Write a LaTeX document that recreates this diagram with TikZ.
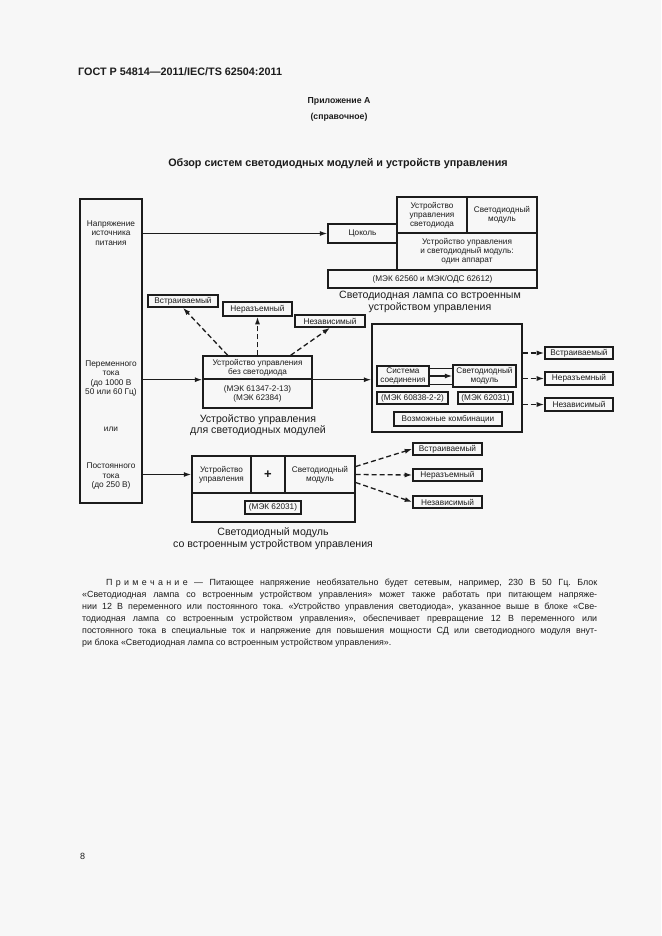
\documentclass[tikz,border=0pt]{standalone}
\usepackage{fontspec}
\setmainfont{Liberation Sans}
\usetikzlibrary{arrows.meta,calc}
\definecolor{ink}{RGB}{28,28,28}
\definecolor{paper}{RGB}{247,247,247}
\newcommand\notefont{\fontsize{8.9}{10}\selectfont}
\newcommand\noteline[3]{\node[anchor=west,inner sep=0,font=\notefont,text=ink] (#1) at (82,#2) {\makebox[515pt][s]{#3}};}
\frenchspacing
\begin{document}
\frenchspacing
\begin{tikzpicture}[x=1pt,y=-1pt,
  box/.style={draw=ink,line width=1.4pt,inner sep=0.5pt,align=center,text=ink,
    font=\fontsize{8.2}{8.8}\selectfont},
  lbl/.style={box,line width=1.6pt,font=\fontsize{8.3}{9}\selectfont},
  txt/.style={inner sep=0,align=center,text=ink,font=\fontsize{8.3}{9.4}\selectfont},
  captxt/.style={inner sep=0,align=center,text=ink,font=\fontsize{10.6}{11.5}\selectfont},
  arr/.style={draw=ink,line width=1.3pt,-{Latex[length=7.5pt,width=5pt]}},
  darr/.style={arr,dash pattern=on 5pt off 3pt}]
\fill[paper] (0,0) rectangle (661,936);
\useasboundingbox (0,0) rectangle (661,936);

% header
\node[anchor=west,inner sep=0,text=ink,font=\bfseries\fontsize{10.8}{12}\selectfont] (hdr) at (78,72) {ГОСТ Р 54814—2011/IEC/TS 62504:2011};
\node[inner sep=0,align=center,text=ink,font=\bfseries\fontsize{8.7}{16}\selectfont] (app) at (339,109) {Приложение А\\(справочное)};
\node[inner sep=0,text=ink,font=\bfseries\fontsize{10.8}{12}\selectfont] (title) at (338,164) {Обзор систем светодиодных модулей и устройств управления};

% source box
\node[box,minimum width=62,minimum height=304] (src) at (111,351) {};
\node[txt] (t1) at (111,233) {Напряжение\\источника\\питания};
\node[txt] (t2) at (111,378.5) {Переменного\\тока\\(до 1000 В\\50 или 60 Гц)};
\node[txt] (t3) at (111,429) {или};
\node[txt] (t4) at (111,476) {Постоянного\\тока\\(до 250 В)};

% lamp
\node[box,minimum width=69,minimum height=19] (cok) at (362.5,233.5) {Цоколь};
\node[box,minimum width=70,minimum height=36] (ucl) at (432,215) {Устройство\\управления\\светодиода};
\node[box,minimum width=70,minimum height=36] (ledm1) at (502,215) {Светодиодный\\модуль};
\node[box,minimum width=140,minimum height=37] (onedev) at (467,251.5) {Устройство управления\\и светодиодный модуль:\\один аппарат};
\node[box,minimum width=209,minimum height=18] (mek1) at (432.5,279) {(МЭК 62560 и МЭК/ОДС 62612)};
\node[captxt] (cap1) at (430,302) {Светодиодная лампа со встроенным\\устройством управления};

% control gear
\node[box,minimum width=109,minimum height=23] (ctrlt) at (257.5,367.5) {Устройство управления\\без светодиода};
\node[box,minimum width=109,minimum height=29] (ctrlb) at (257.5,393.5) {(МЭК 61347-2-13)\\(МЭК 62384)};
\node[captxt] (cap2) at (258,425) {Устройство управления\\для светодиодных модулей};

\node[lbl,minimum width=70,minimum height=12] (e1) at (183,301) {Встраиваемый};
\node[lbl,minimum width=69,minimum height=14] (e2) at (257.5,309) {Неразъемный};
\node[lbl,minimum width=70,minimum height=12] (e3) at (330,321) {Независимый};

% right system
\node[box,minimum width=150,minimum height=108] (big) at (447,378) {};
\node[box,minimum width=52,minimum height=20] (sys) at (403,376) {Система\\соединения};
\node[box,minimum width=63,minimum height=22] (ledm2) at (484.5,376) {Светодиодный\\модуль};
\node[box,minimum width=71,minimum height=12] (mek2) at (412.5,398) {(МЭК 60838-2-2)};
\node[box,minimum width=55,minimum height=12] (mek3) at (485.5,398) {(МЭК 62031)};
\node[box,minimum width=108,minimum height=14] (comb) at (448,419) {Возможные комбинации};

\node[lbl,minimum width=68,minimum height=12] (r1) at (579,353) {Встраиваемый};
\node[lbl,minimum width=68,minimum height=13] (r2) at (579,378.5) {Неразъемный};
\node[lbl,minimum width=68,minimum height=13] (r3) at (579,404.5) {Независимый};

% LED module with control gear
\node[box,minimum width=59,minimum height=37] (ledctl) at (221.5,474.5) {Устройство\\управления};
\node[box,minimum width=34,minimum height=37,font=\bfseries\fontsize{13}{13}\selectfont] (plus) at (268,474.5) {+};
\node[box,minimum width=70,minimum height=37] (led3) at (320,474.5) {Светодиодный\\модуль};
\node[box,minimum width=163,minimum height=29] (ledbot) at (273.5,507.5) {};
\node[box,minimum width=56,minimum height=13] (mek4) at (273,507.5) {(МЭК 62031)};
\node[captxt] (cap3) at (273,538.5) {Светодиодный модуль\\со встроенным устройством управления};

\node[lbl,minimum width=69,minimum height=12] (b1) at (447.5,449) {Встраиваемый};
\node[lbl,minimum width=69,minimum height=12] (b2) at (447.5,475) {Неразъемный};
\node[lbl,minimum width=69,minimum height=12] (b3) at (447.5,502) {Независимый};

% connectors
\draw[arr] (src.east |- cok.west) -- (cok.west);
\draw[arr] (src.east |- ctrlt.south west) -- (ctrlt.south west);
\draw[arr] (ctrlt.south east) -- (big.west |- ctrlt.south east);
\draw[arr] (src.east |- ledctl.west) -- (ledctl.west);

\draw[darr] ($(ctrlt.north west)!0.23!(ctrlt.north east)$) -- (e1.south);
\draw[darr] (ctrlt.north) -- (e2.south);
\draw[darr] ($(ctrlt.north west)!0.8!(ctrlt.north east)$) -- (e3.south);

\draw[draw=ink,line width=1pt] ($(sys.east)+(0,-8)$) -- ($(ledm2.west)+(0,-8)$);
\draw[arr] (sys.east) -- (ledm2.west);
\draw[draw=ink,line width=1pt] ($(sys.east)+(0,8)$) -- ($(ledm2.west)+(0,8)$);

\draw[darr] (big.east |- r1.west) -- (r1.west);
\draw[darr] (big.east |- r2.west) -- (r2.west);
\draw[darr] (big.east |- r3.west) -- (r3.west);

\draw[darr] ($(led3.east)+(0,-8)$) -- (b1.west);
\draw[darr] (led3.east) -- (b2.west);
\draw[darr] ($(led3.east)+(0,8)$) -- (b3.west);

% note
\noteline{n1}{583}{\hspace*{24pt}П\kern3.3pt р\kern3.3pt и\kern3.3pt м\kern3.3pt е\kern3.3pt ч\kern3.3pt а\kern3.3pt н\kern3.3pt и\kern3.3pt е — Питающее напряжение необязательно будет сетевым, например, 230 В 50 Гц. Блок}
\noteline{n2}{595}{«Светодиодная лампа со встроенным устройством управления» может также работать при питающем напряже-}
\noteline{n3}{607}{нии 12 В переменного или постоянного тока. «Устройство управления светодиода», указанное выше в блоке «Све-}
\noteline{n4}{619}{тодиодная лампа со встроенным устройством управления», обеспечивает превращение 12 В переменного или}
\noteline{n5}{631}{постоянного тока в специальные ток и напряжение для повышения мощности СД или светодиодного модуля внут-}
\node[anchor=west,inner sep=0,font=\notefont,text=ink] (n6) at (82,643) {ри блока «Светодиодная лампа со встроенным устройством управления».};

\node[anchor=west,inner sep=0,text=ink,font=\fontsize{9}{10}\selectfont] (pg) at (80,856) {8};
\end{tikzpicture}
\end{document}
